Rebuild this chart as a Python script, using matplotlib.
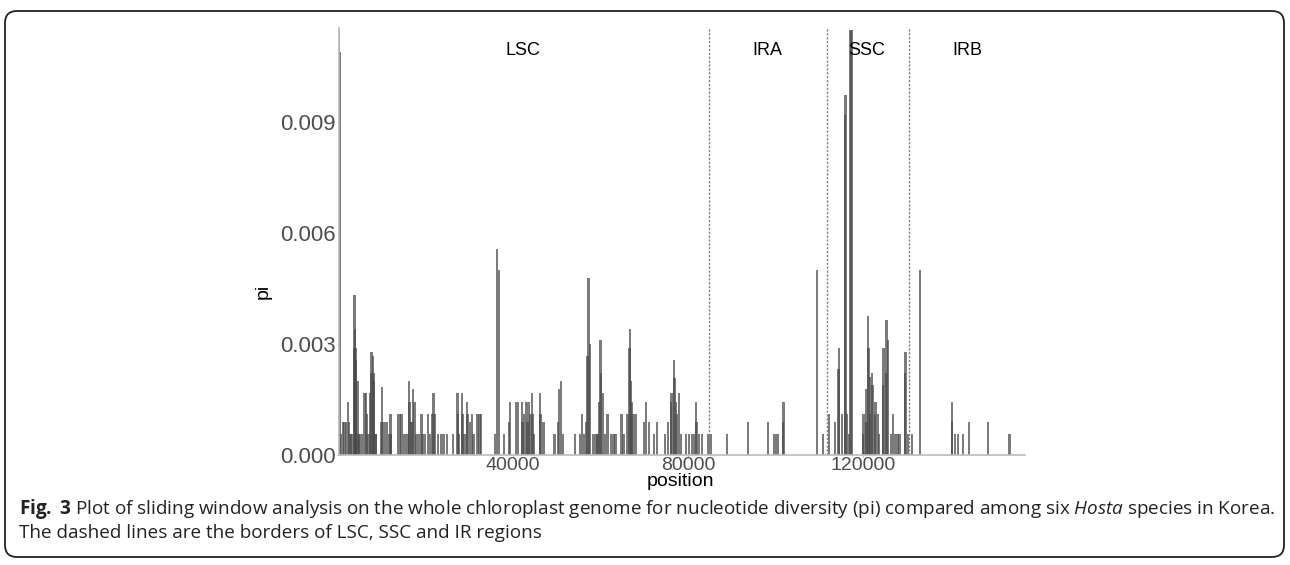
import matplotlib
matplotlib.use("Agg")
import matplotlib.pyplot as plt
from matplotlib.patches import FancyBboxPatch
from matplotlib.transforms import IdentityTransform

# sliding window nucleotide diversity along the chloroplast genome
position = [
    400, 600, 900, 1300, 1700, 2050, 2500, 2700, 3000, 3300,
    3800, 3900, 4100, 4200, 4300, 4600, 4800, 5000, 5500, 6200,
    6500, 6800, 7100, 7500, 7700, 7800, 8200, 8300, 8400, 8700,
    8900, 10000, 10200, 10500, 10900, 11300, 11900, 12100, 12300, 13900,
    14300, 14700, 15300, 16000, 16400, 16500, 16800, 17000, 17300, 17600,
    18100, 18700, 19200, 19500, 20000, 20700, 21200, 21700, 22000, 22300,
    23000, 23700, 24200, 25100, 26400, 27400, 27500, 27800, 28500, 28600,
    29000, 29600, 29700, 30300, 30800, 31100, 32000, 32500, 32800, 36000,
    36500, 36900, 38100, 39200, 39400, 40800, 41200, 42200, 42300, 42600,
    43000, 43400, 43600, 44000, 44400, 44500, 44900, 46200, 46400, 47100,
    49600, 50300, 50600, 51000, 51500, 54300, 55400, 55800, 56300, 56800,
    57100, 57300, 57600, 58500, 59100, 59400, 59700, 60100, 60200, 60600,
    61100, 61700, 62500, 63000, 63500, 64800, 65300, 66200, 66700, 66800,
    67000, 67300, 67400, 68000, 70000, 70400, 71100, 72300, 73000, 74800,
    75500, 76200, 76300, 76800, 76900, 77300, 77500, 78000, 78400, 79600,
    80300, 80900, 81400, 81900, 82000, 82500, 83200, 84600, 85100, 88900,
    93700, 98300, 99600, 100100, 100500, 101700, 101800, 109400, 110800, 112200,
    113500, 114400, 114500, 115100, 115800, 115900, 116300, 116700, 117100, 117300,
    119900, 120100, 120600, 120700, 121100, 121200, 121500, 121600, 122000, 122100,
    122700, 122800, 123400, 123600, 124500, 124600, 125200, 125300, 125700, 126300,
    126800, 127400, 127900, 128300, 129500, 129600, 130200, 131100, 132900, 140200,
    140300, 140900, 141600, 142700, 144100, 148400, 153400,
]
pi = [
    0.0115, 0.0109, 0.00056, 0.00089, 0.00089, 0.00089, 0.00144, 0.00089, 0.00056, 0.00056,
    0.00289, 0.00433, 0.00342, 0.00289, 0.00256, 0.0020, 0.00056, 0.00056, 0.00056, 0.00167,
    0.00167, 0.00111, 0.00056, 0.00167, 0.00222, 0.00278, 0.00267, 0.00222, 0.0020, 0.00056,
    0.00056, 0.00089, 0.00183, 0.00089, 0.00089, 0.00089, 0.00056, 0.00111, 0.00056, 0.00111,
    0.00111, 0.00111, 0.00056, 0.00056, 0.0020, 0.00144, 0.00089, 0.00089, 0.00178, 0.00144,
    0.00056, 0.00056, 0.00111, 0.00056, 0.00056, 0.00111, 0.00056, 0.00111, 0.00167, 0.00111,
    0.00056, 0.00056, 0.00056, 0.00056, 0.00056, 0.00167, 0.00111, 0.00056, 0.00167, 0.00111,
    0.00056, 0.00144, 0.00111, 0.00089, 0.00111, 0.00056, 0.00111, 0.00111, 0.00111, 0.00056,
    0.00557, 0.0050, 0.00056, 0.00089, 0.00144, 0.00144, 0.00144, 0.00144, 0.00089, 0.00111,
    0.00144, 0.00089, 0.00144, 0.00111, 0.00167, 0.00111, 0.00056, 0.00167, 0.00111, 0.00089,
    0.00056, 0.00089, 0.00178, 0.0020, 0.00056, 0.00056, 0.00056, 0.00111, 0.00056, 0.00089,
    0.00267, 0.00479, 0.0030, 0.00056, 0.00056, 0.00056, 0.00144, 0.00311, 0.00222, 0.00167,
    0.00056, 0.00111, 0.00056, 0.00056, 0.00056, 0.00111, 0.00056, 0.00111, 0.00289, 0.00342,
    0.0020, 0.00144, 0.00111, 0.00111, 0.00089, 0.00144, 0.00089, 0.00056, 0.00089, 0.00056,
    0.00089, 0.00144, 0.00167, 0.00256, 0.00208, 0.00144, 0.00111, 0.00167, 0.00056, 0.00056,
    0.00056, 0.00056, 0.00056, 0.00144, 0.00089, 0.00056, 0.00056, 0.00056, 0.00056, 0.00056,
    0.00089, 0.00089, 0.00056, 0.00056, 0.00056, 0.00089, 0.00144, 0.0050, 0.00056, 0.00111,
    0.00089, 0.00233, 0.00289, 0.00111, 0.0092, 0.00974, 0.00111, 0.00056, 0.0115, 0.0115,
    0.00056, 0.00111, 0.00178, 0.00089, 0.00377, 0.00289, 0.00211, 0.00111, 0.00222, 0.00189,
    0.00111, 0.00144, 0.00111, 0.00056, 0.00189, 0.00289, 0.00222, 0.00365, 0.00311, 0.00056,
    0.00111, 0.00056, 0.00056, 0.00056, 0.00222, 0.00278, 0.00056, 0.00056, 0.0050, 0.00089,
    0.00144, 0.00056, 0.00056, 0.00056, 0.00089, 0.00089, 0.00056,
]

borders = [84850, 111670, 130360]
regions = ["LSC", "IRA", "SSC", "IRB"]
region_x = [42400, 98200, 120800, 143800]
yticks = [0.000, 0.003, 0.006, 0.009]
xticks = [40000, 80000, 120000]

plt.rcParams["font.family"] = ["Liberation Sans", "DejaVu Sans"]
plt.rcParams["mathtext.fontset"] = "custom"
plt.rcParams["mathtext.rm"] = "Open Sans"
plt.rcParams["mathtext.it"] = "Open Sans:italic"
plt.rcParams["mathtext.bf"] = "Open Sans:bold"

fig = plt.figure(figsize=(12.9, 5.65), dpi=100)
ax = fig.add_axes([339 / 1290, 1 - 455 / 565, (1025 - 339) / 1290, (455 - 28) / 565])

ax.bar(position, pi, width=560, color="#4a4a4a", alpha=0.72, linewidth=0)
for b in borders:
    ax.axvline(b, color="#808080", linewidth=1, linestyle=(0, (1.6, 1.2)))
for name, x in zip(regions, region_x):
    ax.text(x, 0.01095, name, ha="center", va="center", fontsize=13, color="black")

ax.set_xlim(400, 156900)
ax.set_ylim(0, 0.01155)
ax.set_xticks(xticks)
ax.set_xticklabels([str(t) for t in xticks])
ax.set_yticks(yticks)
ax.set_yticklabels(["%.3f" % t for t in yticks])
ax.tick_params(axis="x", labelsize=14, labelcolor="#4d4d4d", color="#bbbbbb",
               length=1.5, pad=0)
ax.tick_params(axis="y", labelsize=16, labelcolor="#4d4d4d", color="#bbbbbb",
               length=1.5, pad=1)
for side in ["top", "right"]:
    ax.spines[side].set_visible(False)
for side in ["left", "bottom"]:
    ax.spines[side].set_color("#bbbbbb")
    ax.spines[side].set_linewidth(1.2)

fig.text(680 / 1290, 1 - 482 / 565, "position", ha="center", va="center", fontsize=14)
fig.text(263 / 1290, 1 - 291 / 565, "pi", ha="center", va="center", fontsize=14,
         rotation=90)

caption = (r"$\mathbf{Fig.}$ $\mathbf{3}$ Plot of sliding window analysis on the whole chloroplast "
           r"genome for nucleotide diversity (pi) compared among six $\mathit{Hosta}$ "
           "species in Korea.\nThe dashed lines are the borders of LSC, SSC and IR regions")
fig.text(19 / 1290, 1 - 497 / 565, caption, ha="left", va="top", fontsize=13.6,
         family=["Open Sans", "DejaVu Sans"], linespacing=1.22, color="#222222")

frame = FancyBboxPatch((5, 8), 1279, 546, boxstyle="round,pad=0,rounding_size=12",
                       transform=IdentityTransform(), fill=False, edgecolor="#222222",
                       linewidth=1.3)
fig.add_artist(frame)

fig.savefig("out.png", dpi=100)
